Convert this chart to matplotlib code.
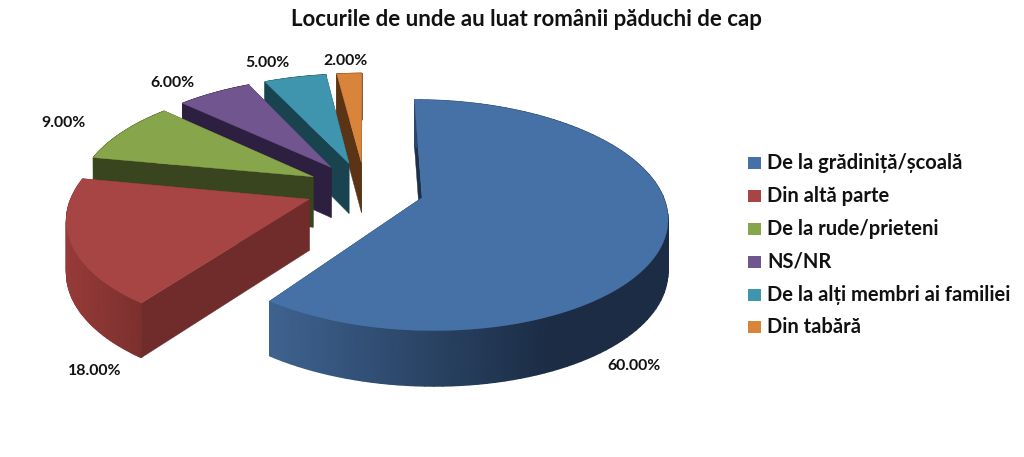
import numpy as np
import matplotlib
matplotlib.use("Agg")
import matplotlib.pyplot as plt
from matplotlib.colors import LinearSegmentedColormap

plt.rcParams['font.family'] = ['Lato', 'DejaVu Sans']

title = "Locurile de unde au luat românii păduchi de cap"
categories = ["De la grădiniță/școală", "Din altă parte", "De la rude/prieteni",
              "NS/NR", "De la alți membri ai familiei", "Din tabără"]
values = [60, 18, 9, 6, 5, 2]

top_colors = ["#4571A7", "#A64543", "#87A64B", "#70558F", "#3F95AE", "#D9843B"]
cut_colors = ["#1E3049", "#6F2C2A", "#39451E", "#2C1F40", "#18434F", "#5A3414"]
wall_left = ["#3E628F", "#963B39", "#4F6228", "#3F3151", "#215968", "#7A4A1C"]
wall_right = ["#1B2C44", "#7C302E", "#39451E", "#2C1F40", "#18434F", "#5A3414"]
label_pos = [(634, 366), (95, 371), (64, 123), (172, 83), (267, 63), (346, 61)]

# projection of the tilted pie onto image pixels
x0, y0 = 365, 189
a, b = 237, 110
k, m = 0.15, 0.005
explode = 0.25
depth = 51


def project(u, v, d=0.0):
    s = 1 / (1 + k * v - m * u)
    return x0 + a * u * s, y0 - b * v * s + d * np.sqrt(s)


fig = plt.figure(figsize=(10.24, 4.57), dpi=100)
ax = fig.add_axes([0, 0, 1, 1])
ax.set_xlim(0, 1024)
ax.set_ylim(457, 0)
ax.axis("off")

fracs = np.array(values) / sum(values) * 360.0
ends = np.cumsum(fracs)
starts = ends - fracs


def draw_cuts(i, cu, cv, u, v):
    for j in (0, -1):
        xa, ya = project(cu, cv)
        xe, ye = project(u[j], v[j])
        xa2, ya2 = project(cu, cv, depth)
        xe2, ye2 = project(u[j], v[j], depth)
        ax.fill([xa, xe, xe2, xa2], [ya, ye, ye2, ya2], color=cut_colors[i], lw=0.3)


def draw_wall(i, u, v):
    x_top, y_top = project(u, v)
    x_bot, y_bot = project(u, v, depth)
    if i == 0:
        f = np.clip((x_top - 272) / 280, 0, 1)
    else:
        f = (x_top - x_top.min()) / np.ptp(x_top)
    cmap = LinearSegmentedColormap.from_list("wall", [wall_left[i], wall_right[i]])
    ax.pcolormesh(np.array([x_top, x_bot]), np.array([y_top, y_bot]), np.array([f, f]),
                  cmap=cmap, vmin=0, vmax=1, shading="gouraud")


# back slices first, the big one last
for i in range(len(values) - 1, -1, -1):
    t = np.radians(np.linspace(starts[i], ends[i], 120))
    mid = np.radians((starts[i] + ends[i]) / 2)
    cu, cv = explode * np.sin(mid), explode * np.cos(mid)
    u = cu + np.sin(t)
    v = cv + np.cos(t)

    if i == 0:
        draw_cuts(i, cu, cv, u, v)
        draw_wall(i, u, v)
    else:
        draw_wall(i, u, v)
        draw_cuts(i, cu, cv, u, v)

    x_top, y_top = project(u, v)
    xa, ya = project(cu, cv)
    ax.fill(np.r_[xa, x_top], np.r_[ya, y_top], color=top_colors[i], lw=0.3)

for val, pos in zip(values, label_pos):
    ax.text(pos[0], pos[1], f"{val:.2f}%", fontsize=11.4, fontweight="bold",
            color="#111111", ha="center", va="center")

ax.text(526, 20, title, fontsize=16, fontweight="bold", color="#111111",
        ha="center", va="center")

# legend
legend_y = [163, 196, 229, 262, 295, 327]
for name, col, y in zip(categories, top_colors, legend_y):
    ax.fill([748, 761, 761, 748], [y - 6, y - 6, y + 6, y + 6], color=col, lw=0)
    ax.text(767, y, name, fontsize=14.5, fontweight="bold", color="#111111",
            ha="left", va="center")

fig.savefig("out.png", dpi=100)
